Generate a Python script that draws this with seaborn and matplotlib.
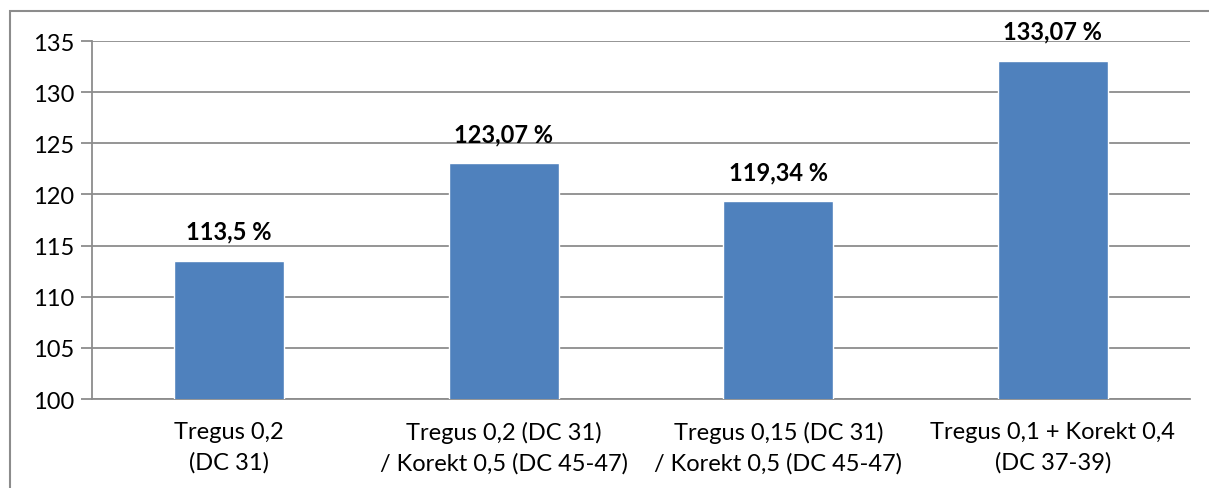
import matplotlib
matplotlib.use("Agg")
import matplotlib.pyplot as plt
import seaborn as sns
import pandas as pd
from matplotlib.patches import Rectangle

# chart values
categories = ["Tregus 0,2\n(DC 31)",
              "Tregus 0,2 (DC 31)\n/ Korekt 0,5 (DC 45-47)",
              "Tregus 0,15 (DC 31)\n/ Korekt 0,5 (DC 45-47)",
              "Tregus 0,1 + Korekt 0,4\n(DC 37-39)"]
values = [113.5, 123.07, 119.34, 133.07]
value_labels = ["113,5 %", "123,07 %", "119,34 %", "133,07 %"]
yticks = [100, 105, 110, 115, 120, 125, 130, 135]

df = pd.DataFrame({"Variant": categories, "Value": values})

sns.set_style("white")
plt.rcParams["font.family"] = ["Lato", "DejaVu Sans"]
plt.rcParams["text.color"] = "black"
plt.rcParams["xtick.labelcolor"] = "black"
plt.rcParams["ytick.labelcolor"] = "black"

fig = plt.figure(figsize=(12.09, 4.89), dpi=100)
ax = fig.add_axes([92 / 1209, 1 - 400 / 489, (1190 - 92) / 1209, (400 - 42) / 489])

sns.barplot(data=df, x="Variant", y="Value", color="#4F81BD", width=0.4,
            saturation=1, ax=ax, zorder=3)

ax.set_ylim(100, 135)
ax.set_xlim(-0.5, len(categories) - 0.5)
ax.set_yticks(yticks)
ax.set_yticklabels([str(t) for t in yticks], fontsize=17)
ax.yaxis.grid(True, color="#8c8c8c", linewidth=1.3, zorder=0)
ax.set_axisbelow(True)

# category labels centred, ticks at boundaries
ax.set_xticks(range(len(categories)))
ax.set_xticklabels(categories, fontsize=17, linespacing=1.5)
ax.tick_params(axis="x", length=0, pad=16)
ax.set_xticks([i - 0.5 for i in range(len(categories) + 1)], minor=True)
ax.tick_params(axis="x", which="minor", length=8, color="#8c8c8c", width=1.3)
ax.tick_params(axis="y", length=8, color="#8c8c8c", width=1.3, left=True, pad=5)
ax.set_xlabel("")
ax.set_ylabel("")

for s in ["top", "right"]:
    ax.spines[s].set_visible(False)
for s in ["left", "bottom"]:
    ax.spines[s].set_color("#8c8c8c")
    ax.spines[s].set_linewidth(1.3)

for i, (v, lab) in enumerate(zip(values, value_labels)):
    ax.annotate(lab, (i, v), xytext=(0, 13), textcoords="offset points",
                ha="center", va="bottom", fontsize=17, fontweight="bold",
                color="black")

# outer chart frame
fig.patches.append(Rectangle((10 / 1209, -0.1), 1.2, 1 - 12 / 489 + 0.1,
                             transform=fig.transFigure, fill=False,
                             edgecolor="#8c8c8c", linewidth=1.5))

fig.savefig("out.png", dpi=100)
